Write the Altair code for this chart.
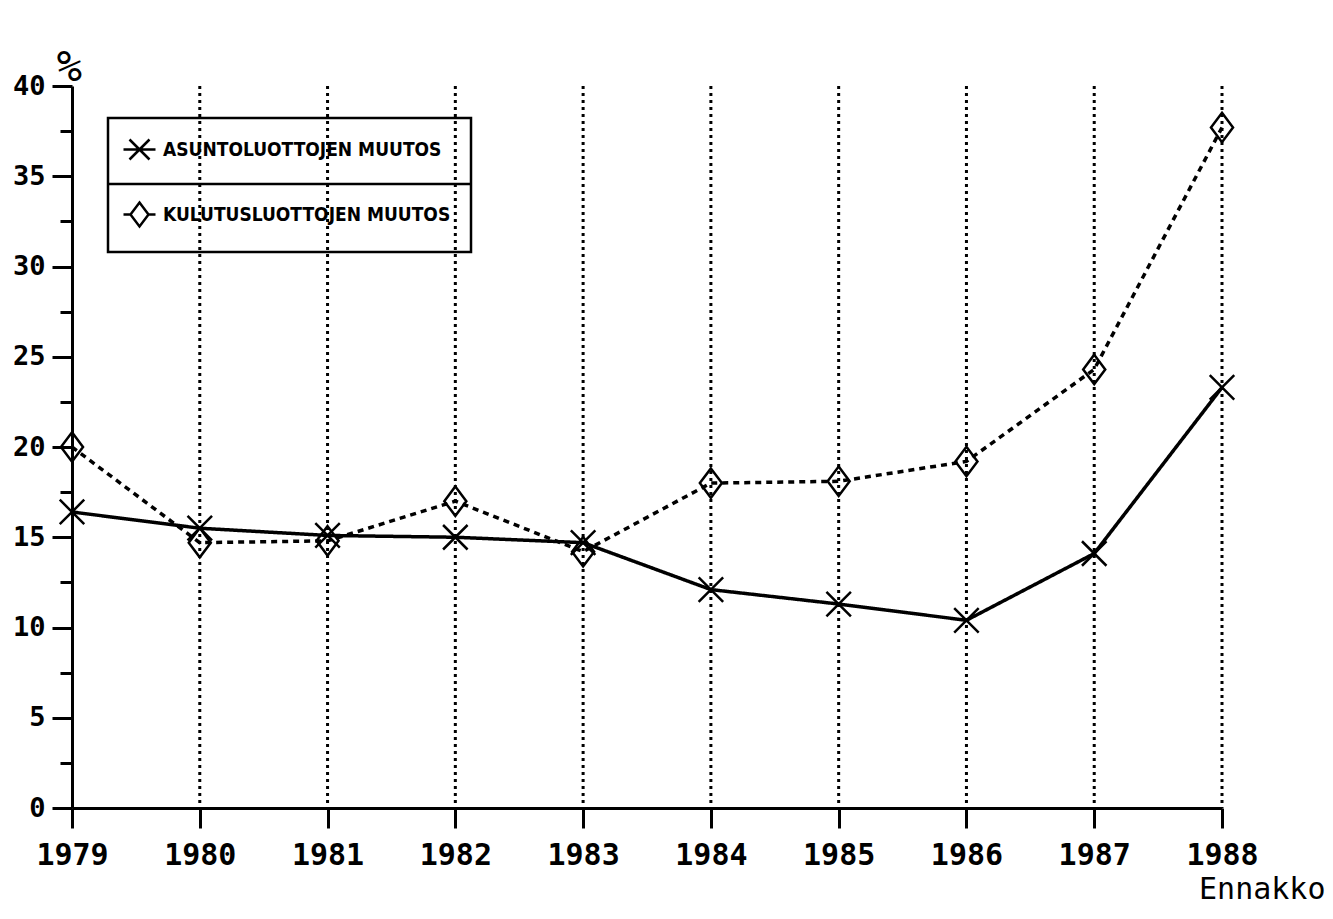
import altair as alt
import pandas as pd

years = [1979, 1980, 1981, 1982, 1983, 1984, 1985, 1986, 1987, 1988]
asunto = [16.4, 15.5, 15.1, 15.0, 14.7, 12.1, 11.3, 10.4, 14.1, 23.3]
kulutus = [20.0, 14.7, 14.8, 17.0, 14.2, 18.0, 18.1, 19.2, 24.3, 37.7]
series_names = ["ASUNTOLUOTTOJEN MUUTOS", "KULUTUSLUOTTOJEN MUUTOS"]
grid_years = years[1:]
y_ticks = [v * 2.5 for v in range(17)]

rows = []
for y, a, k in zip(years, asunto, kulutus):
    rows.append({"year": y, "value": a, "series": series_names[0]})
    rows.append({"year": y, "value": k, "series": series_names[1]})
df = pd.DataFrame(rows)
grid_df = pd.DataFrame({"year": grid_years})

MONO = "DejaVu Sans Mono"
NARROW = "DejaVu Sans Condensed, DejaVu Sans, sans-serif"

x_path = "M-1,-1L1,1M-1,1L1,-1"
d_path = "M0,-1.2L0.9,0L0,1.2L-0.9,0Z"
x_leg = "M-1,-1L1,1M-1,1L1,-1M-1.6,0L1.6,0"
d_leg = "M0,-1.2L0.9,0L0,1.2L-0.9,0ZM-1.6,0L-0.9,0M0.9,0L1.6,0"

x_enc = alt.X(
    "year:Q",
    scale=alt.Scale(domain=[1979, 1988], nice=False, zero=False),
    axis=alt.Axis(
        values=years, format="d", grid=False,
        domainColor="black", domainWidth=3, tickColor="black", tickWidth=3,
        tickSize=20, labelPadding=12, labelFont=MONO, labelFontSize=30,
        labelFontWeight="bold", labelColor="black",
        title="Ennakko", titleFont=MONO, titleFontSize=30, titleFontWeight="normal",
        titleColor="black", titleX=1253, titleY=90, titleAlign="right",
        titleBaseline="alphabetic", labelFlush=False,
    ),
)
y_enc = alt.Y(
    "value:Q",
    scale=alt.Scale(domain=[0, 40], nice=False),
    axis=alt.Axis(
        values=y_ticks, grid=False,
        labelExpr="datum.value % 5 == 0 ? datum.label : ''",
        domainColor="black", domainWidth=3, tickColor="black", tickWidth=3,
        tickSize={"condition": {"test": "datum.value % 5 != 0", "value": 12}, "value": 20},
        labelPadding=7, labelFont=MONO, labelFontSize=27, labelFontWeight="bold",
        labelColor="black",
        title="%", titleAngle=0, titleFont=MONO, titleFontSize=42,
        titleFontWeight="normal", titleColor="black", titleX=-3, titleY=-6,
        titleAlign="center", titleBaseline="alphabetic",
    ),
)

grid = alt.Chart(grid_df).mark_rule(
    color="black", strokeWidth=3, strokeDash=[3, 4]
).encode(x=alt.X("year:Q"))

lines = alt.Chart(df).mark_line(color="black", strokeWidth=3.5).encode(
    x=x_enc,
    y=y_enc,
    strokeDash=alt.StrokeDash(
        "series:N",
        scale=alt.Scale(domain=series_names, range=[[1, 0], [6, 5]]),
        legend=None,
    ),
)

points = alt.Chart(df).mark_point(
    filled=False, color="black", strokeWidth=2.5, size=600, opacity=1
).encode(
    x="year:Q",
    y="value:Q",
    shape=alt.Shape(
        "series:N",
        scale=alt.Scale(domain=series_names, range=[x_path, d_path]),
        legend=None,
    ),
)

legend_layer = alt.Chart(df).mark_point(
    filled=False, color="black", strokeWidth=2.5, size=400, opacity=0
).encode(
    x="year:Q",
    y="value:Q",
    shape=alt.Shape(
        "series:N",
        scale=alt.Scale(domain=series_names, range=[x_leg, d_leg]),
        legend=alt.Legend(
            title=None, orient="none", legendX=36, legendY=32,
            strokeColor="black", padding=20, rowPadding=32,
            symbolSize=400, symbolStrokeWidth=2.5, symbolStrokeColor="black",
            symbolOpacity=1, labelFont=NARROW, labelFontSize=19,
            labelFontWeight="bold", labelColor="black", labelOffset=12,
            labelLimit=500,
        ),
    ),
)

divider = alt.Chart(pd.DataFrame({"k": [0]})).mark_rule(
    color="black", strokeWidth=2.5
).encode(x=alt.value(36), x2=alt.value(398), y=alt.value(98))

chart = (
    alt.layer(grid, lines, points, legend_layer, divider)
    .resolve_scale(shape="independent")
    .properties(
        width=1150, height=722,
        autosize=alt.AutoSizeParams(type="none"),
        padding={"left": 64, "top": 78, "right": 103, "bottom": 103},
        background="white",
    )
    .configure_view(stroke=None)
    .configure_legend(strokeWidth=2.5)
)

chart.save("out.html", embed_options={"renderer": "svg", "actions": False})
